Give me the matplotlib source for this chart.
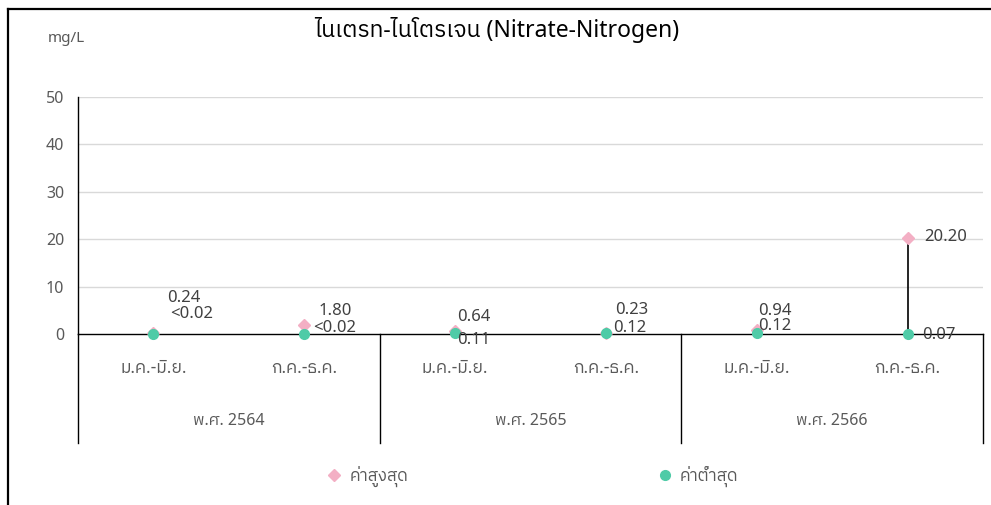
import matplotlib
matplotlib.use("Agg")
import matplotlib.pyplot as plt
import matplotlib.transforms as mtransforms
from matplotlib import font_manager
from matplotlib.ft2font import FT2Font
from matplotlib.lines import Line2D

# data
periods = ["ม.ค.-มิ.ย.", "ก.ค.-ธ.ค.", "ม.ค.-มิ.ย.", "ก.ค.-ธ.ค.", "ม.ค.-มิ.ย.", "ก.ค.-ธ.ค."]
years = ["พ.ศ. 2564", "พ.ศ. 2565", "พ.ศ. 2566"]
max_vals = [0.24, 1.80, 0.64, 0.23, 0.94, 20.20]
min_vals = [0.02, 0.02, 0.11, 0.12, 0.12, 0.07]
max_labels = ["0.24", "1.80", "0.64", "0.23", "0.94", "20.20"]
min_labels = ["<0.02", "<0.02", "0.11", "0.12", "0.12", "0.07"]
y_ticks = [0, 10, 20, 30, 40, 50]

# label offsets in pixels (dx, dy)
max_off = [(14, 35), (14, 14), (2, 14), (9, 23), (1, 19), (17, 1)]
min_off = [(17, 20), (9, 6), (2, -7), (7, 5), (1, 7), (15, -1)]


def find_thai_font():
    found = []
    for f in font_manager.fontManager.ttflist:
        try:
            if 0x0E01 in FT2Font(f.fname).get_charmap():
                found.append(f.name)
        except Exception:
            pass
    for name in found:
        if "Thai" in name and "Looped" not in name:
            return name
    return found[0] if found else "DejaVu Sans"


thai = find_thai_font()
fam = ["Noto Sans", thai, "DejaVu Sans"]
plt.rcParams["font.family"] = fam

PINK = "#F3AFC4"
TEAL = "#4FCBA7"
GRAY = "#595959"
DARK = "#404040"

W, H = 991, 505
fig = plt.figure(figsize=(W / 100, H / 100), dpi=100)

# outer frame (top + left edges)
fig.add_artist(Line2D([8 / W, 1], [1 - 9 / H, 1 - 9 / H], color="black", lw=1.6))
fig.add_artist(Line2D([8 / W, 8 / W], [0, 1 - 9 / H], color="black", lw=1.6))

left, right, top, zero = 78, 983, 97, 334
ax = fig.add_axes([left / W, 1 - zero / H, (right - left) / W, (zero - top) / H])

x = list(range(len(periods)))
ax.set_xlim(-0.5, len(periods) - 0.5)
ax.set_ylim(0, 50)
ax.set_yticks(y_ticks)
ax.set_yticklabels([str(t) for t in y_ticks], color=GRAY, fontsize=11.5)
ax.tick_params(axis="y", length=0, pad=10)
ax.tick_params(axis="x", length=0)
ax.set_xticks([])
for v in y_ticks[1:]:
    ax.axhline(v, color="#D9D9D9", lw=1, zorder=0)
for s in ["top", "right"]:
    ax.spines[s].set_visible(False)
ax.spines["bottom"].set_color("black")
ax.spines["left"].set_color("black")
ax.spines["bottom"].set_linewidth(1)
ax.spines["left"].set_linewidth(1)

# high-low lines and markers
ax.vlines(x, min_vals, max_vals, color="black", lw=1.2, zorder=3)
ax.plot(x, max_vals, ls="none", marker="D", ms=6, color=PINK, zorder=4, clip_on=False)
ax.plot(x, min_vals, ls="none", marker="o", ms=7, color=TEAL, zorder=5, clip_on=False)

for i in x:
    ax.annotate(max_labels[i], (i, max_vals[i]), xytext=max_off[i], textcoords="offset pixels",
                ha="left", va="center", fontsize=12, color=DARK, zorder=6)
    ax.annotate(min_labels[i], (i, min_vals[i]), xytext=min_off[i], textcoords="offset pixels",
                ha="left", va="center", fontsize=12, color=DARK, zorder=6)

# two-level category axis below the zero line
px = (zero - top)
trans = mtransforms.blended_transform_factory(ax.transData, ax.transAxes)
bottom_ax = -(443 - zero) / px
for i, lab in enumerate(periods):
    ax.text(i, -(368 - zero) / px, lab, transform=trans, ha="center", va="center",
            fontsize=12.5, color=GRAY)
for j, yr in enumerate(years):
    ax.text(2 * j + 0.5, -(421 - zero) / px, yr, transform=trans, ha="center", va="center",
            fontsize=11.5, color=GRAY)
for xs in [-0.5, 1.5, 3.5, 5.5]:
    ax.plot([xs, xs], [0, bottom_ax], transform=trans, color="black", lw=1, clip_on=False)

fig.text(66 / W, 1 - 38 / H, "mg/L", ha="center", va="center", fontsize=11, color=GRAY)
fig.text(497 / W, 1 - 30 / H, "ไนเตรท-ไนโตรเจน (Nitrate-Nitrogen)",
         ha="center", va="center", fontsize=16.5, color="black")

handles = [
    Line2D([], [], ls="none", marker="D", ms=6, color=PINK),
    Line2D([], [], ls="none", marker="o", ms=7, color=TEAL),
]
fig.legend(handles, ["ค่าสูงสุด", "ค่าต่ำสุด"], loc="center", bbox_to_anchor=(533 / W, 1 - 476 / H),
           ncol=2, frameon=False, fontsize=12, handlelength=0.8, handletextpad=0.5,
           columnspacing=15, labelcolor=GRAY)

fig.savefig("out.png", dpi=100)
